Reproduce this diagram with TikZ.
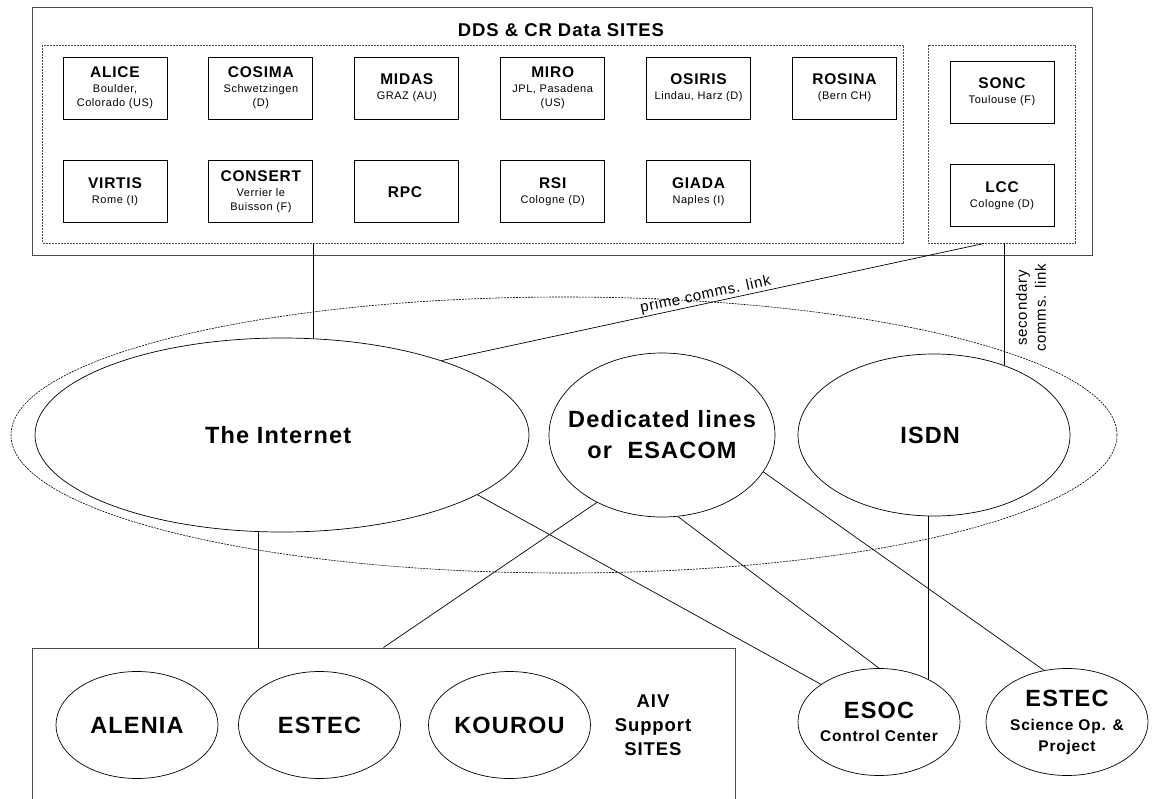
\documentclass[tikz,border=0pt]{standalone}
\usepackage{fontspec}
\setmainfont{Liberation Sans}[LetterSpace=5]
\usepackage{tikz}
\usetikzlibrary{positioning}
\usetikzlibrary{shapes}
\definecolor{framegray}{rgb}{0.3, 0.3, 0.3}
\tikzset {
        sitenode/.style={align=center,inner sep=0pt, rectangle, draw,line width=0.9pt,minimum width=104pt,minimum height=62pt,font=\fontsize{11}{14}\selectfont},
        groupnode/.style={rectangle, draw=framegray, line width=0.9pt, dash pattern=on 2pt off 1pt, inner sep=0pt},
        framenode/.style={rectangle, draw=framegray, line width=1pt, inner sep=0pt},
        cloudnode/.style={ellipse, draw, line width=0.6pt, dash pattern=on 2pt off 1pt, inner sep=0pt},
        netnode/.style={ellipse, draw, line width=0.7pt, inner xsep=-20pt, inner ysep=0pt, align=center, font=\fontsize{23.5}{31}\selectfont\bfseries},
        placenode/.style={ellipse, draw, line width=0.7pt, inner xsep=-20pt, inner ysep=0pt, minimum width=162pt, minimum height=107pt, align=center, font=\fontsize{15.5}{21}\selectfont\bfseries},
        link/.style={line width=0.7pt},
        default/.style={}
}
\newcommand{\sitetitle}[1]{{\fontsize{15.5}{18}\selectfont\bfseries #1}}
\newcommand{\placetitle}[1]{{\fontsize{23.5}{26}\selectfont #1}}

\begin{document}
\begin{tikzpicture}[x=1pt, y=-1pt]
            \useasboundingbox (0,0) rectangle (1154,798);
            \node[framenode, minimum width=1060pt, minimum height=248pt] (ddsframe) at (562,131) {};
            \node[font=\fontsize{18.5}{22}\selectfont\bfseries] (ddstitle) at (561,30) {DDS \& CR Data SITES};
            \node[groupnode, minimum width=861pt, minimum height=198pt] (sitesL) at (473,144) {};
            \node[groupnode, minimum width=147pt, minimum height=198pt] (sitesR) at (1001.5,144) {};
            \node[sitenode] (alice) at (115,88) {
                \sitetitle{ALICE}\\[1pt]Boulder,\\Colorado (US)
            };
            \node[sitenode, right=41pt of alice] (cosima) {
                \sitetitle{COSIMA}\\[1pt]Schwetzingen\\(D)
            };
            \node[sitenode, right=41pt of cosima] (midas) {
                \sitetitle{MIDAS}\\[1pt]GRAZ (AU)
            };
            \node[sitenode, right=41pt of midas] (miro) {
                \sitetitle{MIRO}\\[1pt]JPL, Pasadena\\(US)
            };
            \node[sitenode, right=41pt of miro] (osiris) {
                \sitetitle{OSIRIS}\\[1pt]Lindau, Harz (D)
            };
            \node[sitenode, right=41pt of osiris] (rosina) {
                \sitetitle{ROSINA}\\[1pt](Bern CH)
            };
            \node[sitenode, below=41pt of alice] (virtis) {
                \sitetitle{VIRTIS}\\[1pt]Rome (I)
            };
            \node[sitenode, right=41pt of virtis] (consert) {
                \sitetitle{CONSERT}\\[1pt]Verrier le\\Buisson (F)
            };
            \node[sitenode, right=41pt of consert] (rpc) {
                \sitetitle{RPC}
            };
            \node[sitenode, right=41pt of rpc] (rsi) {
                \sitetitle{RSI}\\[1pt]Cologne (D)
            };
            \node[sitenode, right=41pt of rsi] (giada) {
                \sitetitle{GIADA}\\[1pt]Naples (I)
            };
            \node[sitenode] (sonc) at (1002,92) {
                \sitetitle{SONC}\\[1pt]Toulouse (F)
            };
            \node[sitenode, below=41pt of sonc] (lcc) {
                \sitetitle{LCC}\\[1pt]Cologne (D)
            };

            \node[cloudnode, minimum width=1106pt, minimum height=276pt] (comms) at (564,435) {};
            \node[netnode, minimum width=494pt, minimum height=194pt] (inet) at (282,435) {
                The Internet
            };
            \node[netnode, minimum width=226pt, minimum height=164pt] (ded) at (662,435) {
                Dedicated lines\\or\ \ ESACOM
            };
            \node[netnode, minimum width=272pt, minimum height=162pt] (isdn) at (934,435) {
                ISDN
            };

            \node[framenode, minimum width=703pt, minimum height=190pt] (aivbox) at (383.5,743) {};
            \node[placenode] (alenia) at (137,725) {\placetitle{ALENIA}};
            \node[placenode] (estec) at (319.5,725) {\placetitle{ESTEC}};
            \node[placenode] (kourou) at (509.5,725) {\placetitle{KOUROU}};
            \node[align=center, font=\fontsize{18.5}{24}\selectfont\bfseries] (aivlabel) at (653,725) {
                AIV\\Support\\SITES
            };
            \node[placenode] (esoc) at (879,722) {
                \placetitle{ESOC}\\[2pt]Control Center
            };
            \node[placenode] (estecsci) at (1067,722) {
                \placetitle{ESTEC}\\[3pt]Science Op. \&\\Project
            };

            \draw[link] (inet.72 |- sitesL.south) -- (inet.72);
            \draw[link] (inet.25) -- node[sloped, above, pos=0.49, inner sep=1pt, font=\fontsize{15}{18}\selectfont] (primelabel) {prime comms. link} ([xshift=-17.5pt]sitesR.south);
            \draw[link] (isdn.45 |- sitesR.south) -- (isdn.45);
            \node[rotate=90, align=center, font=\fontsize{15}{19}\selectfont] (seclabel) at (1031,308) {
                secondary\\comms. link
            };
            \draw[link] (inet.256) -- (inet.256 |- aivbox.north);
            \draw[link] (ded.226) -- (aivbox.north);
            \draw[link] (inet.343.6) -- (esoc.147.7);
            \draw[link] (ded.281.4) -- (esoc.north);
            \draw[link] (esoc.41 |- isdn.south) -- (esoc.41);
            \draw[link] (ded.340) -- (estecsci.114);
        \end{tikzpicture}
\end{document}
